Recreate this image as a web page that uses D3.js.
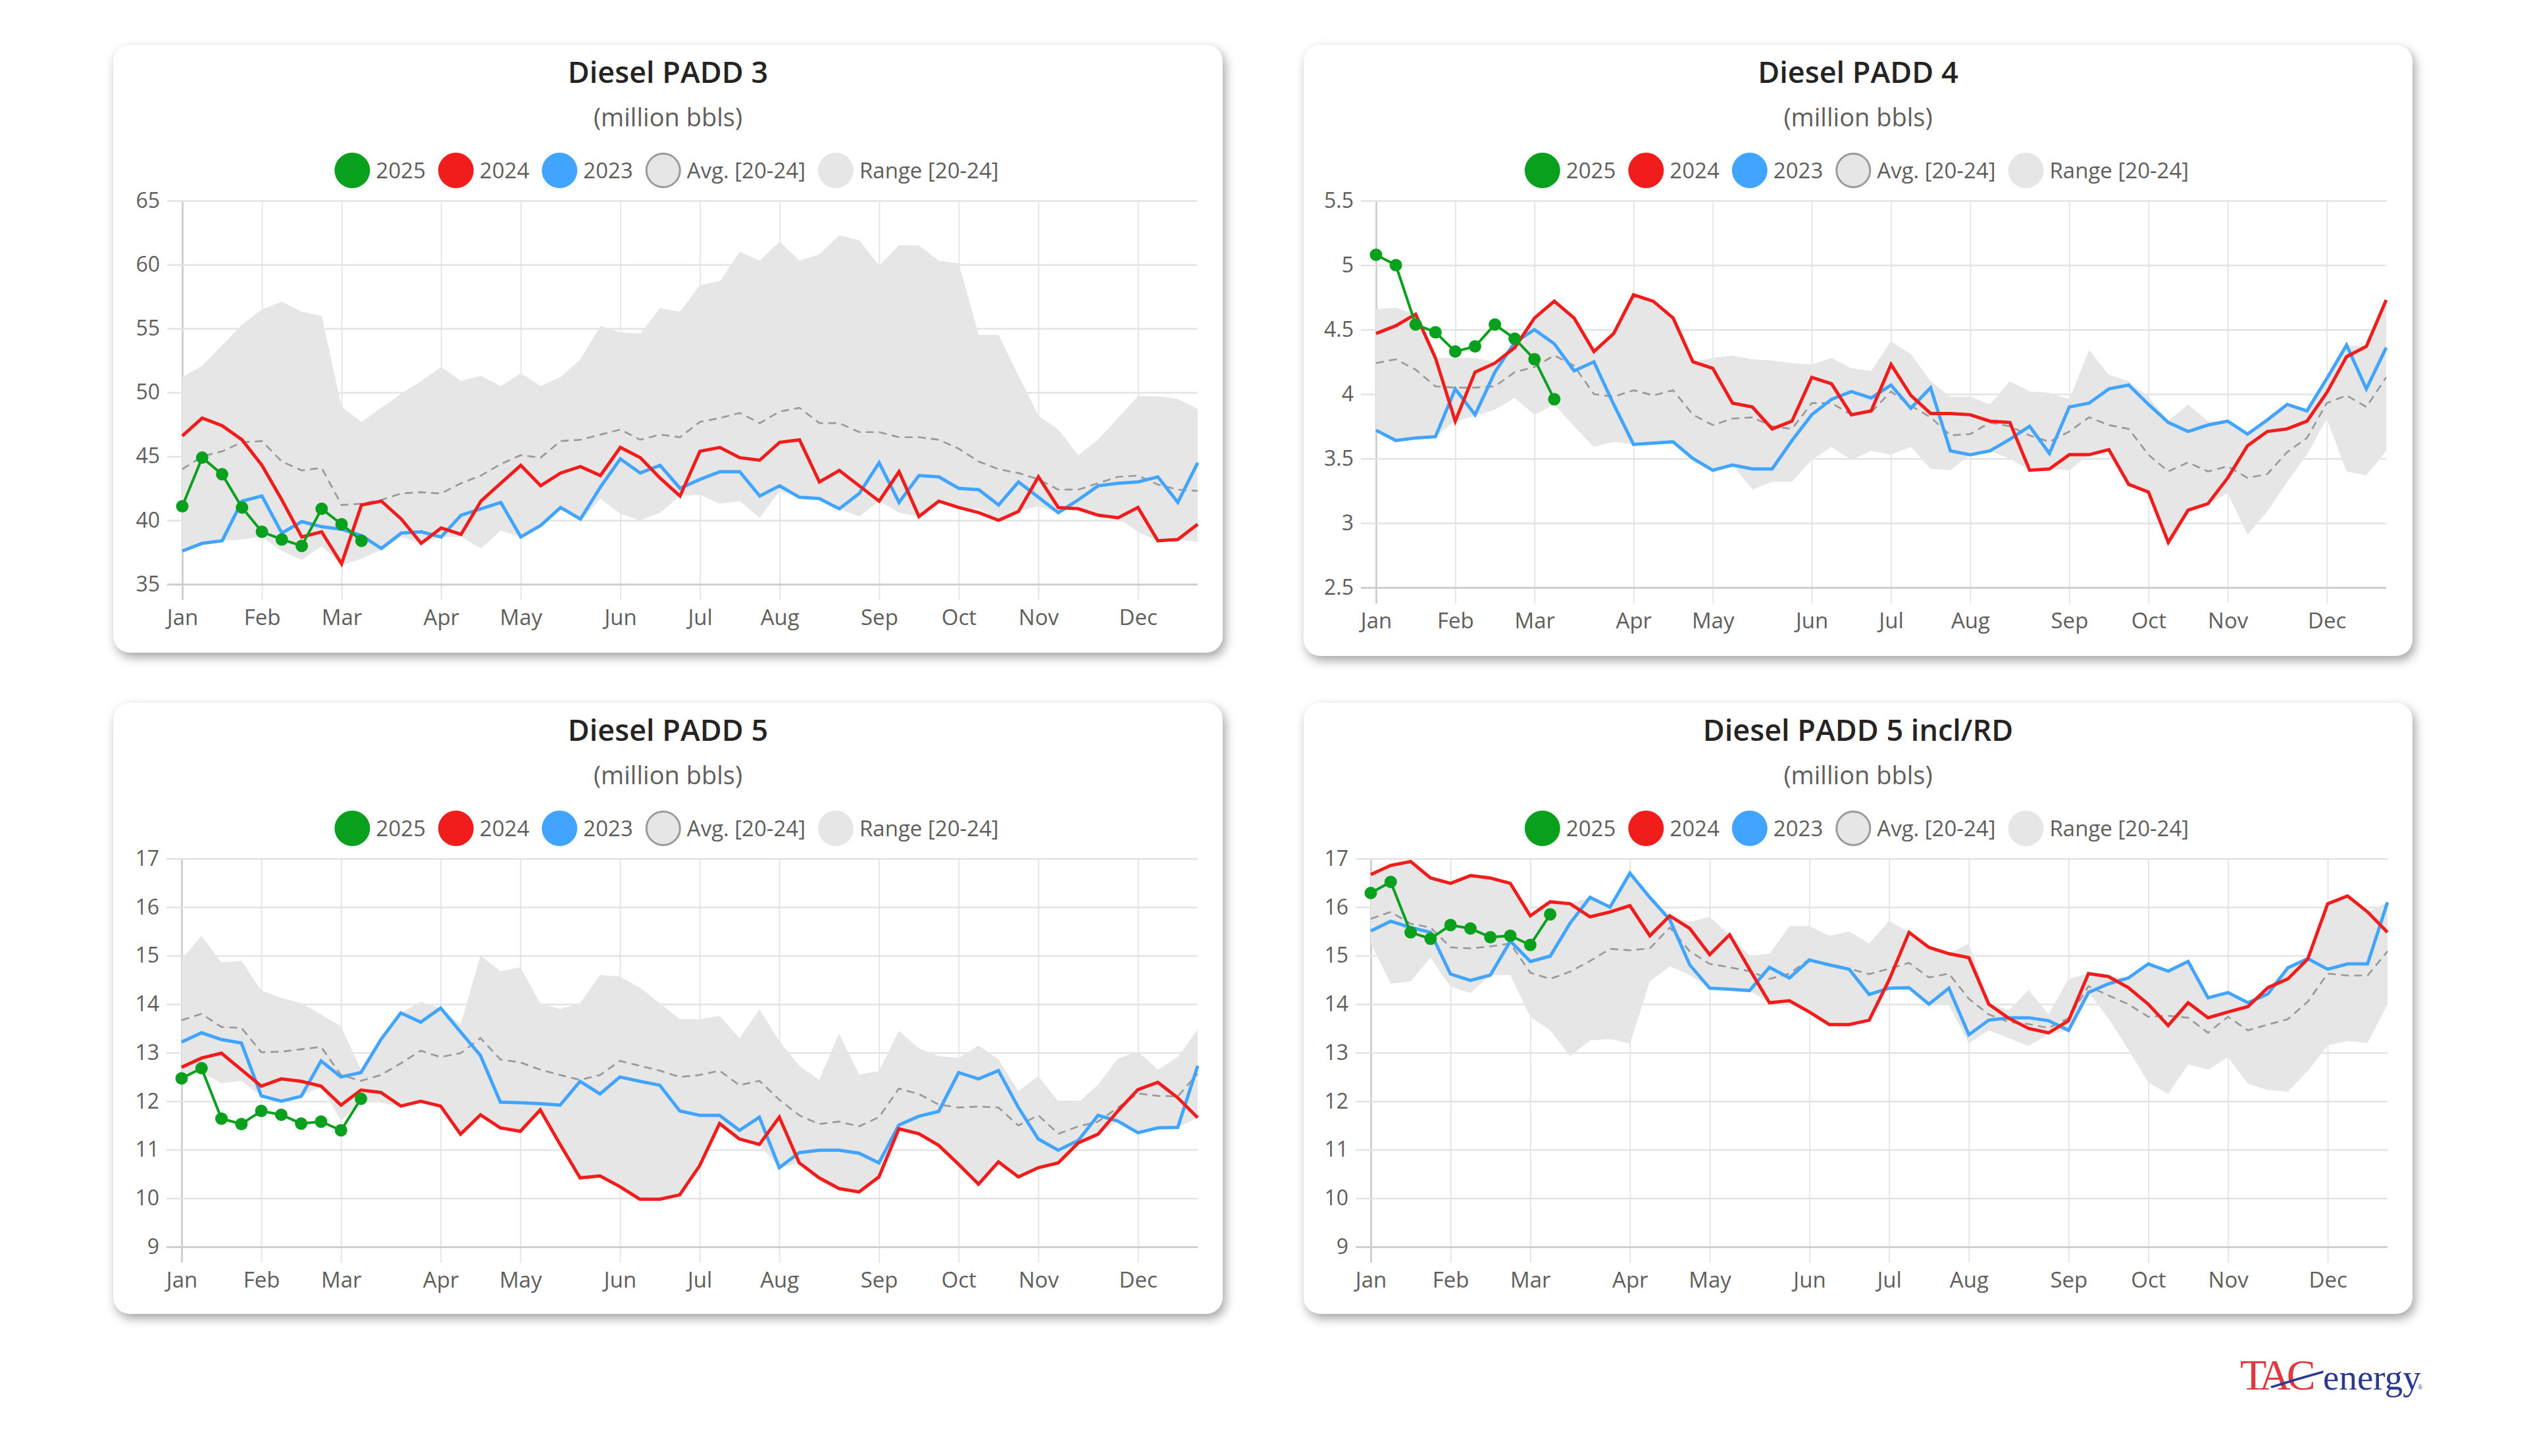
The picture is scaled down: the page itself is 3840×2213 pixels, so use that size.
<!DOCTYPE html>
<html><head><meta charset="utf-8">
<script src="https://cdn.jsdelivr.net/npm/d3@7"></script>
<style>
html,body{margin:0;padding:0;background:#fff;}
body{width:3840px;height:2213px;overflow:hidden;position:relative;font-family:'Open Sans',sans-serif;}
.card{position:absolute;background:#fff;border-radius:25px;box-shadow:4px 7px 16px rgba(0,0,0,0.36);}
.card svg{position:absolute;left:0;top:0;overflow:visible;}
#overlay{position:absolute;left:0;top:0;}
</style></head><body>
<script>
// ---------- shared categories ----------
const monthLabels = ["Jan","Feb","Mar","Apr","May","Jun","Jul","Aug","Sep","Oct","Nov","Dec"];
const monthWeek   = [0,4,8,13,17,22,26,30,35,39,43,48];   // week index where each month label sits
const weekCount   = 52;
const legendLabels = ["2025","2024","2023","Avg. [20-24]","Range [20-24]"];

// ---------- Diesel PADD 3 ----------
const p3_ticks = [35,40,45,50,55,60,65];
const p3_2025 = [41.1,44.9,43.6,41.0,39.1,38.5,38.0,40.9,39.7,38.4];
const p3_2024 = [46.6,48.0,47.4,46.3,44.3,41.6,38.7,39.1,36.6,41.2,41.5,40.1,38.2,39.4,38.9,41.5,42.9,44.3,42.7,43.7,44.2,43.5,45.7,44.9,43.3,41.9,45.4,45.7,44.9,44.7,46.1,46.3,43.0,43.9,42.7,41.5,43.8,40.3,41.5,41.0,40.6,40.0,40.7,43.4,41.0,40.9,40.4,40.2,41.0,38.4,38.5,39.7];
const p3_2023 = [37.6,38.2,38.4,41.5,41.9,39.0,39.9,39.5,39.3,38.8,37.8,39.0,39.1,38.7,40.4,40.9,41.4,38.7,39.6,41.0,40.1,42.6,44.8,43.7,44.3,42.5,43.2,43.8,43.8,41.9,42.7,41.8,41.7,40.9,42.1,44.5,41.4,43.5,43.4,42.5,42.4,41.2,43.0,41.8,40.6,41.6,42.7,42.9,43.0,43.4,41.4,44.5];
const p3_avg  = [44.0,45.0,45.4,46.1,46.2,44.6,43.9,44.1,41.2,41.3,41.6,42.1,42.2,42.1,42.9,43.5,44.4,45.1,44.9,46.2,46.3,46.7,47.1,46.3,46.7,46.5,47.7,48.0,48.4,47.6,48.5,48.8,47.6,47.6,46.9,46.9,46.5,46.5,46.3,45.6,44.6,44.0,43.7,43.2,42.4,42.4,42.9,43.4,43.5,42.8,42.4,42.3];
const p3_hi   = [51.2,52.1,53.7,55.3,56.5,57.1,56.3,56.0,48.9,47.7,48.8,49.9,50.9,52.0,50.9,51.3,50.5,51.5,50.5,51.2,52.6,55.2,54.7,54.6,56.6,56.3,58.4,58.7,61.0,60.3,61.8,60.3,60.8,62.3,61.9,59.9,61.5,61.5,60.3,60.1,54.5,54.5,51.3,48.2,47.1,45.1,46.3,48.0,49.7,49.7,49.5,48.7];
const p3_lo   = [37.6,38.2,38.4,38.5,38.7,37.6,36.9,38.0,36.5,37.0,37.7,38.7,38.2,38.7,38.7,37.8,39.2,38.7,39.5,40.9,39.9,41.7,40.5,40.0,40.6,41.9,42.0,41.3,41.5,40.2,42.3,41.8,41.6,40.9,40.3,41.5,40.6,40.3,41.4,40.9,40.9,40.0,40.7,41.1,40.6,40.9,40.3,40.2,39.1,38.4,38.5,38.3];

// ---------- Diesel PADD 4 ----------
const p4_ticks = [2.5,3,3.5,4,4.5,5,5.5];
const p4_2025 = [5.08,5.0,4.54,4.48,4.33,4.37,4.54,4.43,4.27,3.96];
const p4_2024 = [4.47,4.53,4.62,4.28,3.79,4.17,4.24,4.36,4.59,4.72,4.59,4.33,4.47,4.77,4.72,4.59,4.25,4.20,3.93,3.90,3.73,3.79,4.13,4.08,3.84,3.87,4.23,3.99,3.85,3.85,3.84,3.79,3.78,3.41,3.42,3.53,3.53,3.57,3.30,3.24,2.85,3.10,3.15,3.35,3.60,3.71,3.73,3.79,4.01,4.29,4.37,4.73];
const p4_2023 = [3.72,3.64,3.66,3.67,4.04,3.84,4.17,4.40,4.50,4.39,4.18,4.25,3.92,3.61,3.62,3.63,3.50,3.41,3.45,3.42,3.42,3.64,3.84,3.96,4.02,3.97,4.07,3.89,4.05,3.56,3.53,3.56,3.65,3.75,3.54,3.90,3.93,4.04,4.07,3.92,3.78,3.71,3.76,3.79,3.69,3.80,3.92,3.87,4.12,4.38,4.04,4.36];
const p4_avg  = [4.24,4.27,4.19,4.06,4.05,4.05,4.06,4.17,4.21,4.30,4.22,4.00,3.98,4.03,3.99,4.03,3.84,3.76,3.81,3.82,3.75,3.73,3.93,3.93,3.84,3.86,4.02,3.91,3.82,3.68,3.69,3.78,3.75,3.68,3.63,3.71,3.82,3.76,3.73,3.53,3.40,3.47,3.40,3.44,3.35,3.38,3.55,3.66,3.93,3.99,3.90,4.13];
const p4_hi   = [4.66,4.67,4.62,4.28,4.28,4.28,4.25,4.40,4.59,4.72,4.59,4.33,4.47,4.77,4.72,4.59,4.25,4.28,4.30,4.27,4.26,4.24,4.23,4.28,4.20,4.18,4.41,4.31,4.10,3.98,3.98,3.92,4.10,4.02,4.01,3.96,4.34,4.15,4.10,3.98,3.79,3.92,3.79,3.79,3.69,3.80,3.92,3.87,4.12,4.38,4.37,4.73];
const p4_lo   = [3.72,3.64,3.66,3.67,3.79,3.83,3.88,3.97,3.84,3.92,3.75,3.59,3.63,3.61,3.62,3.63,3.50,3.39,3.45,3.26,3.32,3.32,3.49,3.59,3.49,3.56,3.53,3.59,3.42,3.41,3.53,3.56,3.50,3.41,3.42,3.41,3.53,3.57,3.30,3.24,2.85,3.10,3.15,3.23,2.91,3.09,3.32,3.53,3.81,3.40,3.37,3.56];

// ---------- Diesel PADD 5 ----------
const p5_ticks = [9,10,11,12,13,14,15,16,17];
const p5_2025 = [12.47,12.68,11.64,11.53,11.80,11.72,11.54,11.58,11.40,12.05];
const p5_2024 = [12.70,12.89,12.99,12.65,12.31,12.46,12.41,12.31,11.92,12.23,12.18,11.90,12.00,11.90,11.32,11.72,11.45,11.38,11.82,11.11,10.42,10.46,10.24,9.98,9.98,10.07,10.67,11.54,11.22,11.11,11.67,10.73,10.42,10.20,10.13,10.44,11.43,11.33,11.09,10.70,10.29,10.75,10.44,10.63,10.73,11.14,11.32,11.80,12.24,12.39,12.07,11.66];
const p5_2023 = [13.22,13.41,13.27,13.20,12.11,12.00,12.10,12.83,12.50,12.59,13.27,13.82,13.63,13.92,13.43,12.94,11.98,11.97,11.95,11.92,12.41,12.15,12.50,12.41,12.33,11.80,11.71,11.71,11.40,11.67,10.63,10.94,10.99,10.99,10.93,10.73,11.51,11.69,11.79,12.59,12.46,12.63,11.87,11.22,10.99,11.19,11.71,11.59,11.35,11.45,11.46,12.73];
const p5_avg  = [13.67,13.80,13.53,13.51,13.01,13.02,13.07,13.12,12.54,12.42,12.54,12.78,13.04,12.91,12.99,13.30,12.86,12.80,12.65,12.54,12.44,12.54,12.83,12.73,12.63,12.50,12.54,12.63,12.33,12.42,12.03,11.71,11.53,11.58,11.48,11.67,12.26,12.15,11.93,11.87,11.89,11.87,11.50,11.71,11.33,11.48,11.58,11.87,12.16,12.11,12.10,12.57];
const p5_hi   = [14.93,15.41,14.86,14.89,14.28,14.13,14.02,13.79,13.54,12.65,13.27,13.82,14.05,13.92,13.58,15.00,14.68,14.76,14.02,13.90,14.02,14.60,14.57,14.34,14.02,13.69,13.69,13.76,13.30,13.89,13.24,12.73,12.44,13.40,12.55,12.62,13.45,13.09,12.93,12.89,13.15,12.86,12.21,12.52,12.00,11.97,12.34,12.88,13.02,12.65,12.91,13.48];
const p5_lo   = [12.57,12.60,12.37,12.42,12.11,12.00,12.10,12.31,11.60,12.00,11.97,11.90,12.00,11.90,11.32,11.72,11.45,11.38,11.82,11.11,10.42,10.46,10.24,9.98,9.98,10.07,10.67,11.54,11.22,11.11,10.63,10.73,10.42,10.20,10.13,10.44,11.43,11.33,11.09,10.70,10.29,10.75,10.44,10.63,10.73,11.14,11.32,11.59,11.35,11.45,11.46,11.66];

// ---------- Diesel PADD 5 incl/RD ----------
const p5r_ticks = [9,10,11,12,13,14,15,16,17];
const p5r_2025 = [16.29,16.52,15.48,15.35,15.63,15.56,15.38,15.41,15.22,15.85];
const p5r_2024 = [16.67,16.86,16.94,16.60,16.49,16.65,16.60,16.49,15.82,16.11,16.07,15.80,15.90,16.03,15.41,15.82,15.56,15.02,15.43,14.72,14.03,14.07,13.84,13.58,13.58,13.67,14.50,15.48,15.17,15.04,14.96,14.00,13.71,13.50,13.41,13.66,14.63,14.57,14.34,14.00,13.56,14.03,13.72,13.84,13.95,14.34,14.52,14.93,16.07,16.23,15.90,15.48];
const p5r_2023 = [15.51,15.71,15.58,15.48,14.62,14.49,14.60,15.30,14.88,14.99,15.67,16.20,16.00,16.70,16.20,15.74,14.81,14.33,14.31,14.28,14.76,14.54,14.91,14.81,14.72,14.20,14.33,14.34,14.00,14.33,13.37,13.67,13.72,13.72,13.66,13.46,14.24,14.42,14.54,14.83,14.68,14.88,14.13,14.24,14.03,14.21,14.75,14.94,14.72,14.83,14.83,16.10];
const p5r_avg  = [15.76,15.90,15.66,15.58,15.17,15.15,15.19,15.25,14.65,14.52,14.67,14.89,15.14,15.11,15.15,15.58,15.09,14.83,14.76,14.68,14.52,14.63,14.93,14.81,14.73,14.62,14.73,14.85,14.55,14.63,14.11,13.79,13.63,13.59,13.51,13.71,14.37,14.18,14.00,13.74,13.76,13.72,13.41,13.74,13.46,13.58,13.69,14.05,14.63,14.59,14.59,15.09];
const p5r_hi   = [16.67,16.86,16.94,16.60,16.49,16.65,16.60,16.49,15.82,16.11,16.07,16.20,16.03,16.70,16.20,15.82,15.69,15.80,15.43,15.00,15.04,15.61,15.61,15.41,15.50,15.25,15.72,15.48,15.17,15.04,15.25,14.03,13.87,14.29,13.79,14.52,14.63,14.57,14.54,14.83,14.68,14.88,14.13,14.24,14.03,14.34,14.75,14.94,16.07,16.23,15.90,16.10];
const p5r_lo   = [15.25,14.42,14.47,14.96,14.36,14.23,14.60,14.60,13.74,13.46,12.93,13.25,13.28,13.19,14.47,14.78,14.60,14.33,14.31,14.28,14.03,14.07,13.84,13.58,13.58,13.67,14.33,14.34,14.00,13.98,13.19,13.46,13.30,13.14,13.38,13.46,14.24,13.71,13.06,12.39,12.15,12.76,12.65,12.91,12.36,12.23,12.20,12.62,13.15,13.24,13.20,14.00];

// ---------- styling / layout ----------
const COL = {g:"#08a01c", r:"#f11c1c", b:"#41a5ff", band:"#e6e6e6", avg:"#999999", text:"#605e5c", title:"#252423"};

const charts = [
  {title:"Diesel PADD 3", left:172, top:68, w:1686, h:924, pl:105, pr:1648, pt:237, pb:820,
   dom:[35,65], ticks:p3_ticks, y25:p3_2025, y24:p3_2024, y23:p3_2023, avg:p3_avg, hi:p3_hi, lo:p3_lo},
  {title:"Diesel PADD 4", left:1981, top:68, w:1685, h:929, pl:110, pr:1645, pt:237, pb:825,
   dom:[2.5,5.5], ticks:p4_ticks, y25:p4_2025, y24:p4_2024, y23:p4_2023, avg:p4_avg, hi:p4_hi, lo:p4_lo},
  {title:"Diesel PADD 5", left:172, top:1068, w:1686, h:929, pl:104, pr:1648, pt:237, pb:827,
   dom:[9,17], ticks:p5_ticks, y25:p5_2025, y24:p5_2024, y23:p5_2023, avg:p5_avg, hi:p5_hi, lo:p5_lo},
  {title:"Diesel PADD 5 incl/RD", left:1981, top:1068, w:1685, h:929, pl:102, pr:1647, pt:237, pb:827,
   dom:[9,17], ticks:p5r_ticks, y25:p5r_2025, y24:p5r_2024, y23:p5r_2023, avg:p5r_avg, hi:p5r_hi, lo:p5r_lo}
];

const legendStyle = [
  {fill:COL.g}, {fill:COL.r}, {fill:COL.b}, {fill:COL.band, stroke:"#9a9a9a"}, {fill:COL.band}
];

charts.forEach(c => {
  const div = d3.select("body").append("div").attr("class","card")
    .style("left", c.left+"px").style("top", c.top+"px")
    .style("width", c.w+"px").style("height", c.h+"px");
  const svg = div.append("svg").attr("width", c.w).attr("height", c.h)
    .style("font-family","'Open Sans', sans-serif");

  // titles
  svg.append("text").attr("x", c.w/2).attr("y", 58).attr("text-anchor","middle")
    .attr("font-size", 45).attr("font-weight", 600).attr("fill", COL.title).text(c.title);
  svg.append("text").attr("x", c.w/2).attr("y", 124).attr("text-anchor","middle")
    .attr("font-size", 38).attr("fill", COL.text).text("(million bbls)");

  // legend
  const lg = svg.append("g");
  let cx = 0;
  const R = 27;
  legendLabels.forEach((lab, i) => {
    const st = legendStyle[i];
    lg.append("circle").attr("cx", cx).attr("cy", 0).attr("r", st.stroke ? R-1.5 : R)
      .attr("fill", st.fill).attr("stroke", st.stroke || "none").attr("stroke-width", st.stroke ? 3 : 0);
    const t = lg.append("text").attr("x", cx + R + 9).attr("y", 0).attr("dy", "0.35em")
      .attr("font-size", 33).attr("fill", COL.text).text(lab);
    const tw = t.node().getComputedTextLength();
    cx = cx + R + 9 + tw + 19 + R;
  });
  const bb = lg.node().getBBox();
  lg.attr("transform", `translate(${c.w/2 - 2 - (bb.x + bb.width/2)},191)`);

  // scales
  const x = d3.scaleLinear().domain([0, weekCount-1]).range([c.pl, c.pr]);
  const y = d3.scaleLinear().domain(c.dom).range([c.pb, c.pt]);

  // y axis with horizontal gridlines
  const gx0 = c.pl - 23;
  const ya = svg.append("g").attr("transform", `translate(${gx0},0)`)
    .call(d3.axisLeft(y).tickValues(c.ticks).tickFormat(d3.format("")).tickSize(-(c.pr - gx0)).tickPadding(11));
  ya.select(".domain").remove();
  ya.selectAll(".tick line").attr("stroke", d => d === c.dom[0] ? "#cfcfcf" : "#e3e3e3").attr("stroke-width", d => d === c.dom[0] ? 3 : 2.5);
  ya.selectAll(".tick text").attr("font-size", 32).attr("fill", COL.text).attr("font-family","'Open Sans', sans-serif");

  // x axis with vertical gridlines
  const xb = c.pb + 24;
  const xa = svg.append("g").attr("transform", `translate(0,${xb})`)
    .call(d3.axisBottom(x).tickValues(monthWeek).tickFormat((d,i) => monthLabels[i]).tickSize(-(xb - c.pt)).tickPadding(15));
  xa.select(".domain").remove();
  xa.selectAll(".tick line").attr("stroke", d => d === 0 ? "#d0d0d0" : "#e6e6e6").attr("stroke-width", d => d === 0 ? 3 : 2);
  xa.selectAll(".tick text").attr("font-size", 33).attr("fill", COL.text).attr("font-family","'Open Sans', sans-serif");
  ya.raise();

  const idx = d3.range(weekCount);
  // range band
  svg.append("path").datum(idx)
    .attr("d", d3.area().x(i => x(i)).y0(i => y(c.lo[i])).y1(i => y(c.hi[i])))
    .attr("fill", COL.band);
  // average
  svg.append("path").datum(c.avg)
    .attr("d", d3.line().x((d,i) => x(i)).y(d => y(d)))
    .attr("fill","none").attr("stroke", COL.avg).attr("stroke-width", 2.7).attr("stroke-dasharray","12,8");
  // 2023, 2024
  [[c.y23, COL.b],[c.y24, COL.r]].forEach(([s, col]) => {
    svg.append("path").datum(s)
      .attr("d", d3.line().x((d,i) => x(i)).y(d => y(d)))
      .attr("fill","none").attr("stroke", col).attr("stroke-width", 5).attr("stroke-linejoin","miter");
  });
  // 2025
  svg.append("path").datum(c.y25)
    .attr("d", d3.line().x((d,i) => x(i)).y(d => y(d)))
    .attr("fill","none").attr("stroke", COL.g).attr("stroke-width", 4);
  svg.append("g").selectAll("circle").data(c.y25).join("circle")
    .attr("cx", (d,i) => x(i)).attr("cy", d => y(d)).attr("r", 9.5).attr("fill", COL.g);
});

// ---------- logo ----------
const ov = d3.select("body").append("svg").attr("id","overlay").attr("width",3840).attr("height",2213)
  .style("pointer-events","none");
const logo = ov.append("g");
logo.append("text").attr("x", 3404).attr("y", 2112).attr("font-family","'Liberation Serif', serif")
  .attr("font-size", 66).attr("letter-spacing", -6).attr("fill", "#e03a3e").text("TAC");
logo.append("path").attr("d","M3450,2107 Q3490,2094 3531,2083 L3530,2087 Q3490,2098 3452,2110 Z").attr("fill","#2b3990");
logo.append("text").attr("x", 3530).attr("y", 2112).attr("font-family","'Liberation Serif', serif")
  .attr("font-size", 55).attr("fill", "#2b3990").text("energy");
logo.append("text").attr("x", 3674).attr("y", 2112).attr("font-family","'Liberation Serif', serif")
  .attr("font-size", 10).attr("fill", "#2b3990").text("®");
</script>
</body></html>
